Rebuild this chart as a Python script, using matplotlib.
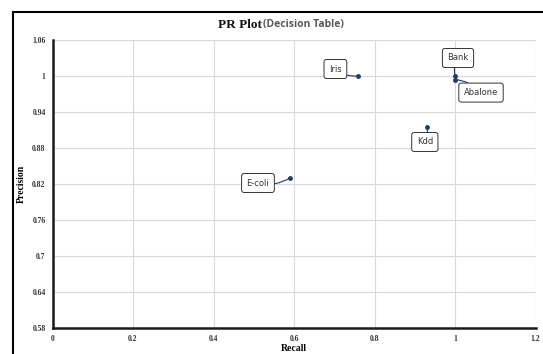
import matplotlib
matplotlib.use("Agg")
import matplotlib.pyplot as plt
from matplotlib.lines import Line2D

datasets = ["Iris", "Bank", "Abalone", "Kdd", "E-coli"]
recall = [0.76, 1.0, 1.0, 0.93, 0.59]
precision = [1.0, 1.0, 0.994, 0.915, 0.83]
label_offsets = [(-23, 7), (3, 18), (26, -13), (-2, -15), (-32, -5)]

x_ticks = [0, 0.2, 0.4, 0.6, 0.8, 1, 1.2]
x_tick_labels = ["0", "0.2", "0.4", "0.6", "0.8", "1", "1.2"]
y_ticks = [0.58, 0.64, 0.7, 0.76, 0.82, 0.88, 0.94, 1.0, 1.06]
y_tick_labels = ["0.58", "0.64", "0.7", "0.76", "0.82", "0.88", "0.94", "1", "1.06"]

W, H = 543, 354
fig = plt.figure(figsize=(W / 100, H / 100), dpi=100)
ax = fig.add_axes([52.5 / W, 1 - 328 / H, (535.5 - 52.5) / W, (328 - 40) / H])

ax.set_xlim(0, 1.2)
ax.set_ylim(0.58, 1.06)
ax.set_xticks(x_ticks)
ax.set_xticklabels(x_tick_labels)
ax.set_yticks(y_ticks)
ax.set_yticklabels(y_tick_labels)
ax.grid(True, color="#d9d9d9", linewidth=0.8)
ax.set_axisbelow(True)
for s in ["top", "right"]:
    ax.spines[s].set_visible(False)
for s in ["left", "bottom"]:
    ax.spines[s].set_linewidth(1.8)
    ax.spines[s].set_color("#1a1a1a")
ax.tick_params(length=0, pad=5)
for lab in ax.get_xticklabels() + ax.get_yticklabels():
    lab.set_fontfamily("Liberation Serif")
    lab.set_fontweight("bold")
    lab.set_fontsize(5.5)
    lab.set_color("#333333")

ax.scatter(recall, precision, s=6, color="#1f3864", zorder=3)

for name, x, y, (dx, dy) in zip(datasets, recall, precision, label_offsets):
    ax.annotate(name, xy=(x, y), xytext=(dx, dy), textcoords="offset pixels",
                ha="center", va="center", fontsize=6, family="DejaVu Sans",
                color="#333333",
                bbox=dict(boxstyle="round,pad=0.6,rounding_size=0.3", fc="white",
                          ec="#333333", lw=0.7),
                arrowprops=dict(arrowstyle="-", color="#1f3864", lw=0.8,
                                shrinkA=0, shrinkB=0,
                                connectionstyle="arc3,rad=0.2"))

ax.set_xlabel("Recall", family="Liberation Serif", fontweight="bold", fontsize=7, labelpad=1)
ax.set_ylabel("Precision", family="Liberation Serif", fontweight="bold", fontsize=7)
ax.yaxis.set_label_coords(-0.055, 0.5)

# Title in two parts
t1 = fig.text(262 / W, 1 - 25 / H, "PR Plot", ha="right", va="center",
              family="Liberation Serif", fontweight="bold", fontsize=9.5, color="#111111")
t2 = fig.text(263 / W, 1 - 25 / H, "(Decision Table)", ha="left", va="center",
              family="Open Sans", fontweight="bold", fontsize=7.5, color="#5a5a5a")

# Chart frame lines
fig.add_artist(Line2D([13 / W, 1], [1 - 12 / H, 1 - 12 / H], transform=fig.transFigure,
                      color="black", lw=1.5))
fig.add_artist(Line2D([13 / W, 13 / W], [0, 1 - 12 / H], transform=fig.transFigure,
                      color="black", lw=1.5))

fig.savefig("out.png", dpi=100)
